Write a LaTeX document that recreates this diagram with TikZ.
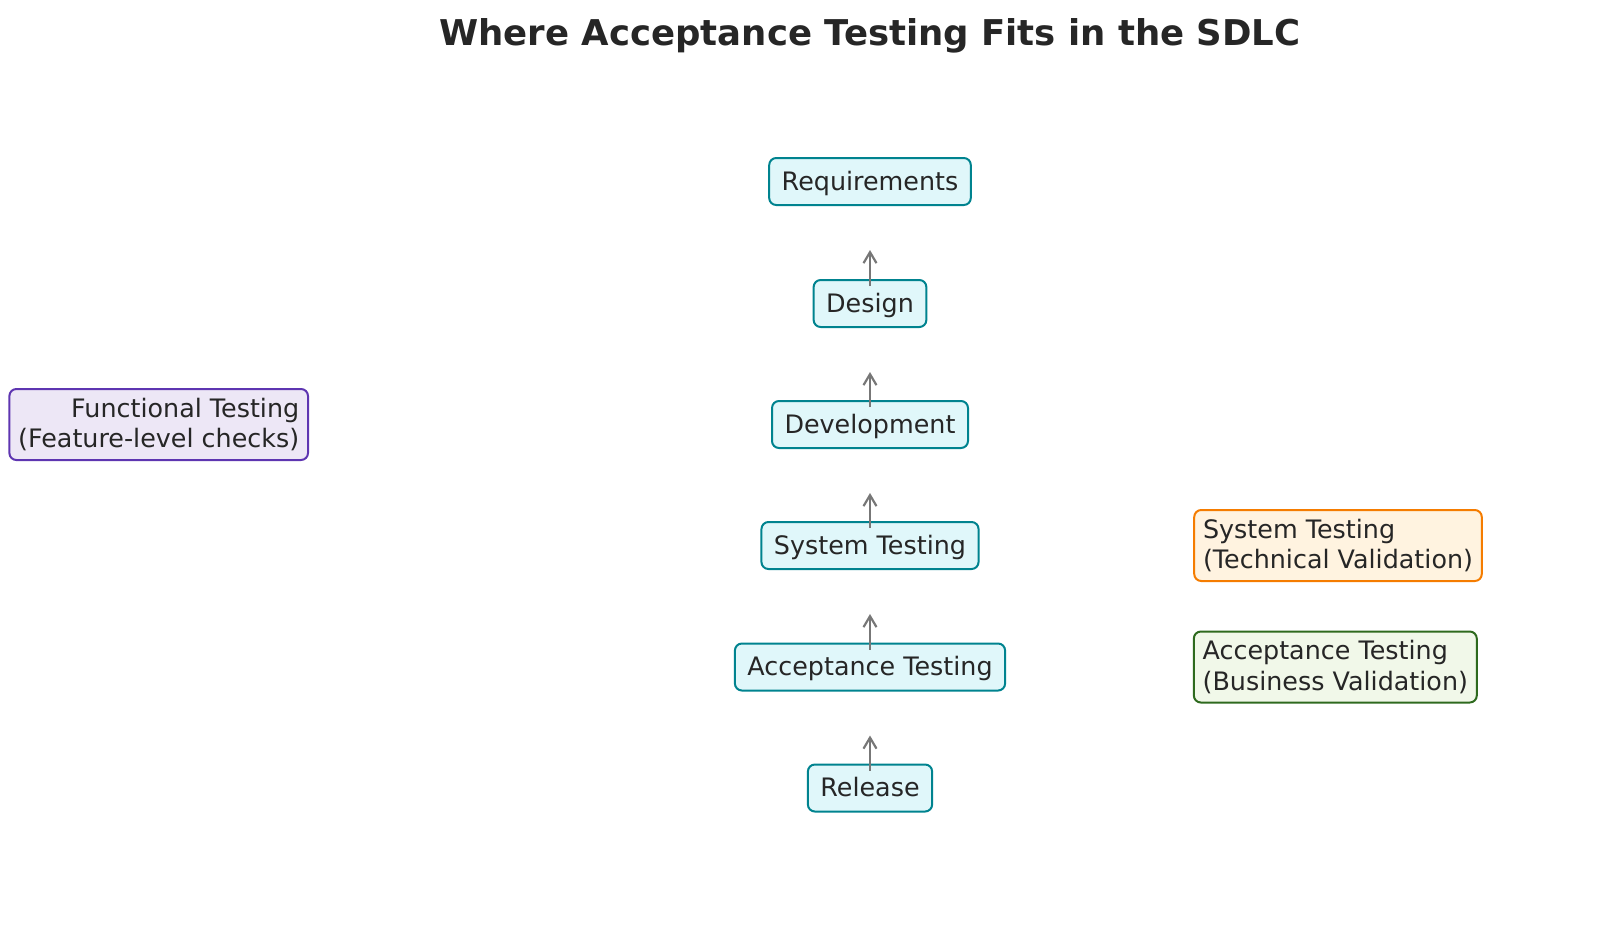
\documentclass[tikz,border=0pt]{standalone}
\usepackage{fontspec}
\setmainfont{DejaVu Sans}
\usetikzlibrary{arrows.meta}
\definecolor{txt}{HTML}{262626}
\definecolor{stagefill}{HTML}{E0F7FA}
\definecolor{stagedraw}{HTML}{00838F}
\definecolor{funcfill}{HTML}{EDE7F6}
\definecolor{funcdraw}{HTML}{5E35B1}
\definecolor{sysfill}{HTML}{FFF3E0}
\definecolor{sysdraw}{HTML}{F57C00}
\definecolor{accfill}{HTML}{F1F8E9}
\definecolor{accdraw}{HTML}{2E6A1E}
\definecolor{arrowgray}{HTML}{777777}
\tikzset{
  base/.style={rounded corners=3.5pt, line width=1pt, text=txt, inner xsep=6.25pt, inner ysep=0pt,
    font=\fontsize{12.7pt}{15.2pt}\selectfont},
  stage/.style={base, fill=stagefill, draw=stagedraw, minimum height=23.5pt, text height=9.3pt, text depth=0.6pt},
  func/.style={base, fill=funcfill, draw=funcdraw, align=right, minimum height=35.5pt, inner xsep=4.4pt},
  sysnote/.style={base, fill=sysfill, draw=sysdraw, align=left, minimum height=35.5pt, inner xsep=4.4pt},
  accnote/.style={base, fill=accfill, draw=accdraw, align=left, minimum height=35.5pt, inner xsep=4.4pt},
  flow/.style={draw=arrowgray, line width=1.1pt, -{Straight Barb[length=5.5pt,width=6.5pt]}, shorten >=22pt}
}
\begin{document}
\begin{tikzpicture}[x=0.5pt, y=-0.5pt]
\useasboundingbox (0,0) rectangle (1600,928);
\node[font=\fontsize{17.75pt}{21pt}\selectfont\bfseries, text=txt, anchor=base, inner sep=0pt] (title) at (870,45) {Where Acceptance Testing Fits in the SDLC};
\node[stage] (req) at (870,181.5) {Requirements};
\node[stage] (des) at (870,303.5) {Design};
\node[stage] (dev) at (870,424.5) {Development};
\node[stage] (sys) at (870,545.5) {System Testing};
\node[stage] (acc) at (870,667) {Acceptance Testing};
\node[stage] (rel) at (870,788) {Release};
\node[func] (fun) at (158.7,424.5) {Functional Testing\\(Feature-level checks)};
\node[sysnote] (sysn) at (1338,545.5) {System Testing\\(Technical Validation)};
\node[accnote] (accn) at (1335.3,667) {Acceptance Testing\\(Business Validation)};
\draw[flow] ([yshift=-3.5pt]des.north) -- (req.south);
\draw[flow] ([yshift=-3.5pt]dev.north) -- (des.south);
\draw[flow] ([yshift=-3.5pt]sys.north) -- (dev.south);
\draw[flow] ([yshift=-3.5pt]acc.north) -- (sys.south);
\draw[flow] ([yshift=-3.5pt]rel.north) -- (acc.south);
\end{tikzpicture}
\end{document}
